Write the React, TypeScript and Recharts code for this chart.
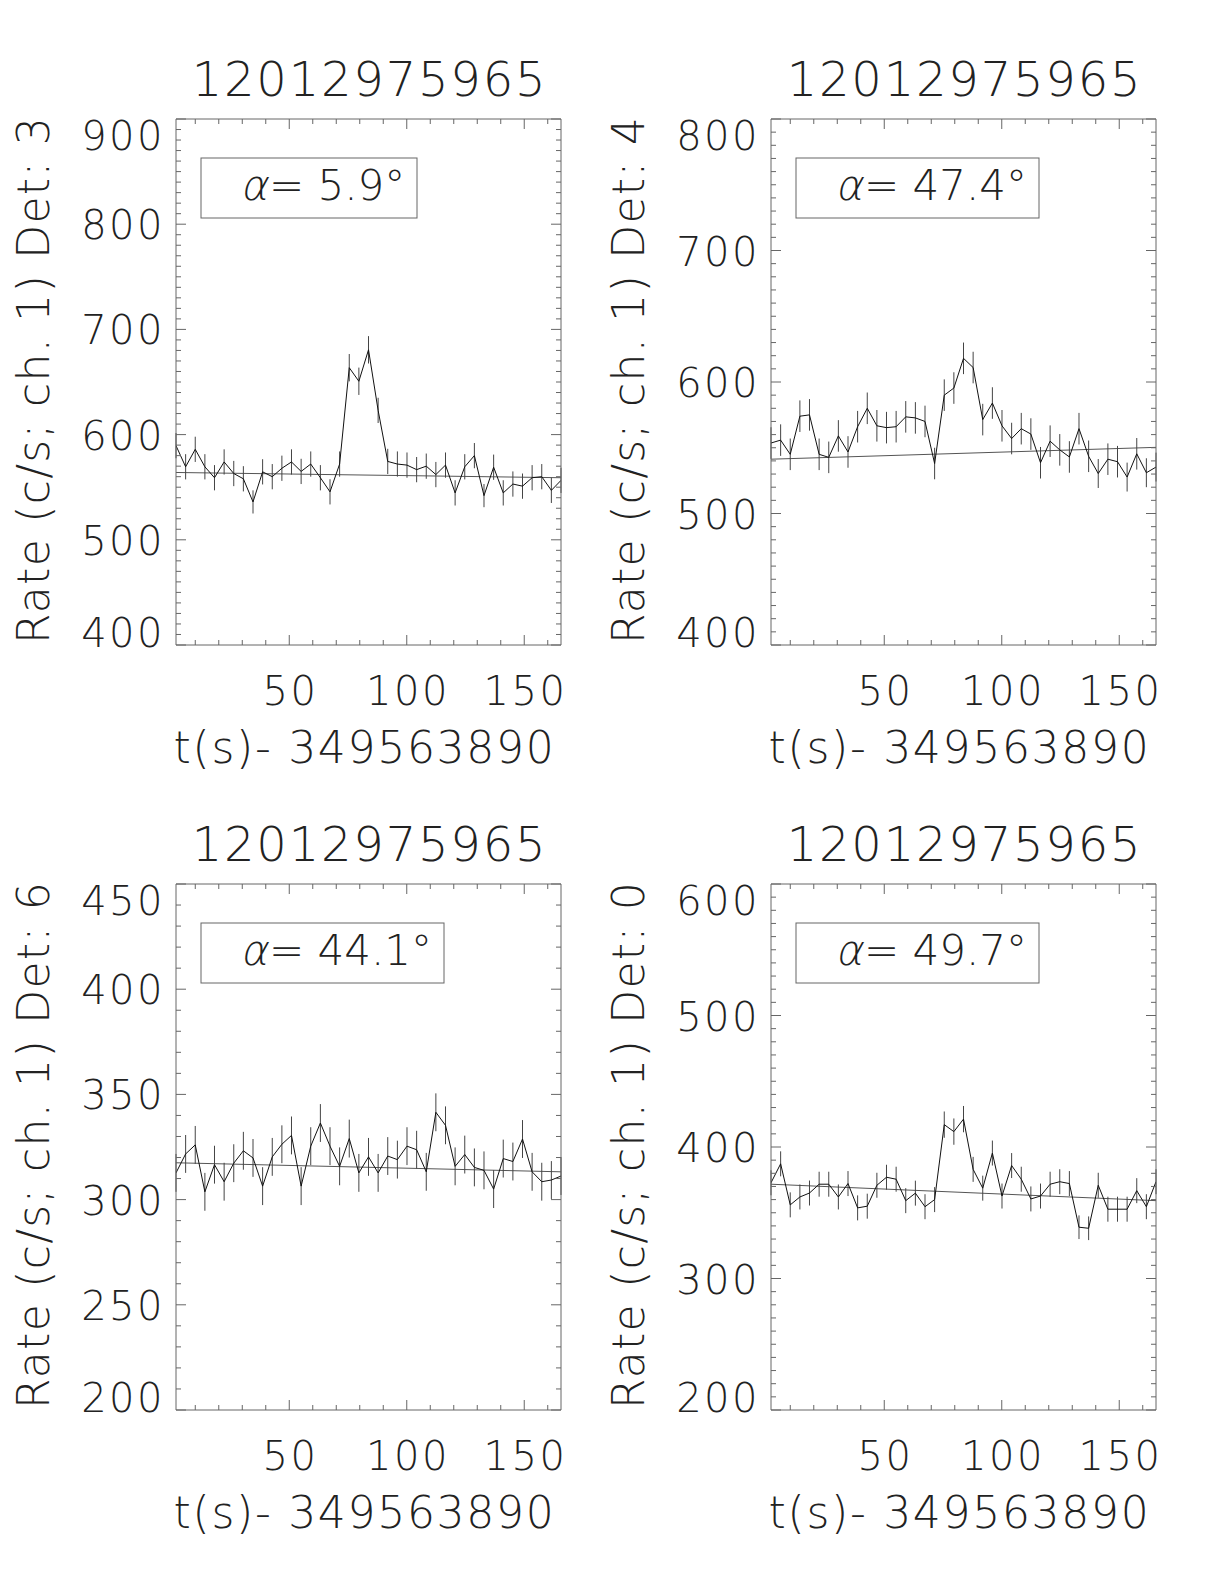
import React from "react";
import { ComposedChart, Line, XAxis, YAxis, ErrorBar } from "recharts";

// GRB trigger / light curves, 4.096 s bins, offset from 349563890 s
const TITLE = "12012975965";
const X_TITLE = "t(s)- 349563890";

const times = [
  1.8, 5.9, 9.99, 14.09, 18.18, 22.28, 26.38, 30.47, 34.57, 38.66, 42.76,
  46.86, 50.95, 55.05, 59.14, 63.24, 67.34, 71.43, 75.53, 79.62, 83.72, 87.82,
  91.91, 96.01, 100.1, 104.2, 108.3, 112.39, 116.49, 120.58, 124.68, 128.78,
  132.87, 136.97, 141.06, 145.16, 149.26, 153.35, 157.45, 161.54, 165.64,
];
const xMajorTicks = [50, 100, 150];

// Det 3
const det3Rate = [
  589.5, 569.4, 586, 569.4, 559, 574, 563, 558, 536, 564.6, 560, 568, 574, 565,
  572, 559, 545.6, 572, 663.6, 650.7, 680.6, 623, 574.5, 572, 571, 566.7, 570,
  562, 571, 544.6, 569.4, 580, 542, 569, 544.6, 553, 551, 559, 560, 547, 556.5,
];
const det3Err = [
  12, 12, 12, 12, 12, 12, 12, 12, 11, 12, 12, 12, 12, 12, 12, 12, 12, 12, 13,
  13, 13, 12, 12, 12, 12, 12, 12, 12, 12, 12, 12, 12, 11, 12, 12, 12, 12, 12,
  12, 12, 12,
];
const det3Fit = [564, 559];
const det3YTicks = [400, 500, 600, 700, 800, 900];

// Det 4
const det4Rate = [
  553.6, 555.8, 545, 574, 575, 545, 542.7, 559, 546.8, 566, 580, 566.7, 565.3,
  566, 573.5, 572.7, 570, 538, 590, 595.4, 618, 611, 571.4, 584, 566.7, 557,
  564.5, 560.4, 538.6, 555, 548.4, 543, 564.5, 543.5, 530.4, 541.3, 539.4,
  527.7, 545.4, 531, 535.3,
];
const det4Err = [
  12, 12, 12, 12, 12, 12, 12, 12, 12, 12, 12, 12, 12, 12, 12, 12, 12, 12, 12,
  12, 12, 12, 12, 12, 12, 12, 12, 12, 12, 12, 12, 12, 12, 12, 11, 12, 12, 11,
  12, 11, 11,
];
const det4Fit = [541.3, 550.3];
const det4YTicks = [400, 500, 600, 700, 800];

// Det 6
const det6Rate = [
  312.7, 321.7, 326, 303.7, 316.6, 308.5, 317.3, 323.2, 319.8, 306.4, 320.3,
  326.3, 330.5, 306.4, 325.4, 336.4, 325.4, 315.8, 329, 312.7, 320.3, 312.7,
  320.7, 319, 325.4, 323.7, 313.2, 341.5, 335.3, 315.8, 321.4, 315.3, 313.9,
  305, 319.5, 318.1, 328.8, 313.2, 308.5, 309.3, 311.2,
];
const det6Err = [
  9, 9, 9, 9, 9, 9, 9, 9, 9, 9, 9, 9, 9, 9, 9, 9, 9, 9, 9, 9, 9, 9, 9, 9, 9, 9,
  9, 9, 9, 9, 9, 9, 9, 9, 9, 9, 9, 9, 9, 9, 9,
];
const det6Fit = [317.5, 313.2];
const det6YTicks = [200, 250, 300, 350, 400, 450];

// Det 0
const det0Rate = [
  372.8, 387.2, 356, 362, 365, 371.7, 371.7, 362, 372.2, 353.7, 355, 370.9, 377,
  375.5, 359.2, 364.9, 354.6, 360, 417, 411.7, 421.2, 383, 368.7, 395.4, 362.7,
  385.9, 375.5, 360.5, 362.7, 371.7, 373.6, 372.2, 339, 338.2, 370.9, 352.7,
  352.7, 352.7, 366.8, 354.6, 373.6,
];
const det0Err = [
  9.5, 9.5, 9.5, 9.5, 9.5, 9.5, 9.5, 9.5, 9.5, 9.5, 9.5, 9.5, 9.5, 9.5, 9.5,
  9.5, 9.5, 9.5, 10, 10, 10, 9.5, 9.5, 9.5, 9.5, 9.5, 9.5, 9.5, 9.5, 9.5, 9.5,
  9.5, 9, 9, 9.5, 9.5, 9.5, 9.5, 9.5, 9.5, 9.5,
];
const det0Fit = [371.7, 359.2];
const det0YTicks = [200, 300, 400, 500, 600];

const FONT = "'DejaVu Sans', sans-serif";
const INK = "#222";
const AXIS = "#666";

// plot box size in px
const BOX_W = 385;
const BOX_H = 526;
const ML = 170;
const MT = 20;
const MR = 20;
const MB = 100;

const TICK_FS = 40;
const TICK_LS = 2.5;

function steps(lo: number, hi: number, step: number) {
  const out: number[] = [];
  for (let v = lo; v <= hi + 1e-9; v += step) out.push(Math.round(v * 100) / 100);
  return out;
}

const xMinorTicks = steps(10, 160, 10);

function xTick(side: "bottom" | "top") {
  return (props: any) => {
    const { x, y, payload } = props;
    const major = xMajorTicks.includes(payload.value);
    const len = major ? 10 : 5;
    const dir = side === "bottom" ? -1 : 1;
    return (
      <g>
        <line x1={x} x2={x} y1={y} y2={y + dir * len} stroke={AXIS} strokeWidth={1} />
        {side === "bottom" && major && (
          <text x={x + TICK_LS / 2} y={y + 60} textAnchor="middle" fontFamily={FONT} fontWeight={200}
            fontSize={TICK_FS} letterSpacing={TICK_LS} fill={INK}>
            {payload.value}
          </text>
        )}
      </g>
    );
  };
}

function yTick(side: "left" | "right", majors: number[]) {
  return (props: any) => {
    const { x, y, payload } = props;
    const major = majors.includes(payload.value);
    const len = major ? 10 : 5;
    const dir = side === "left" ? 1 : -1;
    // IDL nudges the end labels inside the box
    const cy = Math.min(Math.max(y, MT + 16), MT + BOX_H - 13);
    return (
      <g>
        <line x1={x} x2={x + dir * len} y1={y} y2={y} stroke={AXIS} strokeWidth={1} />
        {side === "left" && major && (
          <text x={x - 11} y={cy + 15} textAnchor="end" fontFamily={FONT} fontWeight={200}
            fontSize={TICK_FS} letterSpacing={TICK_LS} fill={INK}>
            {payload.value}
          </text>
        )}
      </g>
    );
  };
}

type PanelProps = {
  rate: number[];
  err: number[];
  fit: number[];
  yTicks: number[];
  left: number;
  top: number;
};

function Panel({ rate, err, fit, yTicks, left, top }: PanelProps) {
  const rows = times.map((t, i) => ({ t, rate: rate[i], err: err[i] }));
  const fitRows = [
    { t: times[0], fit: fit[0] },
    { t: times[times.length - 1], fit: fit[1] },
  ];
  const yDomain = [yTicks[0], yTicks[yTicks.length - 1]];
  const yMinor = steps(yDomain[0], yDomain[1], 10);
  const xDomain = [times[0], times[times.length - 1]];

  // axes get 1px each (a 0px axis is not drawn), margins shrink to match
  return (
    <div style={{ position: "absolute", left: left - ML, top: top - MT }}>
      <ComposedChart
        width={ML + BOX_W + MR}
        height={MT + BOX_H + MB}
        data={rows}
        margin={{ left: ML - 1, top: MT - 1, right: MR - 1, bottom: MB - 1 }}
      >
        <XAxis xAxisId="b" dataKey="t" type="number" domain={xDomain} allowDataOverflow
          ticks={xMinorTicks} interval={0} height={1} tickSize={0} tickMargin={0}
          axisLine={{ stroke: AXIS }} tickLine={false} tick={xTick("bottom")} />
        <XAxis xAxisId="t" orientation="top" dataKey="t" type="number" domain={xDomain} allowDataOverflow
          ticks={xMinorTicks} interval={0} height={1} tickSize={0} tickMargin={0}
          axisLine={{ stroke: AXIS }} tickLine={false} tick={xTick("top")} />
        <YAxis yAxisId="l" type="number" domain={yDomain} allowDataOverflow
          ticks={yMinor} interval={0} width={1} tickSize={0} tickMargin={0}
          axisLine={{ stroke: AXIS }} tickLine={false} tick={yTick("left", yTicks)} />
        <YAxis yAxisId="r" orientation="right" type="number" domain={yDomain} allowDataOverflow
          ticks={yMinor} interval={0} width={1} tickSize={0} tickMargin={0}
          axisLine={{ stroke: AXIS }} tickLine={false} tick={yTick("right", yTicks)} />
        <Line data={fitRows} xAxisId="b" yAxisId="l" dataKey="fit" type="linear"
          stroke="#555" strokeWidth={1} dot={false} isAnimationActive={false} />
        <Line xAxisId="b" yAxisId="l" dataKey="rate" type="linear"
          stroke="#111" strokeWidth={1} dot={false} isAnimationActive={false}>
          <ErrorBar dataKey="err" width={0} stroke="#444" strokeWidth={1} direction="y" isAnimationActive={false} />
        </Line>
      </ComposedChart>
    </div>
  );
}

const panels = [
  { det: "3", alpha: "5.9", rate: det3Rate, err: det3Err, fit: det3Fit, yTicks: det3YTicks, left: 176, top: 119, legendW: 216 },
  { det: "4", alpha: "47.4", rate: det4Rate, err: det4Err, fit: det4Fit, yTicks: det4YTicks, left: 771, top: 119, legendW: 243 },
  { det: "6", alpha: "44.1", rate: det6Rate, err: det6Err, fit: det6Fit, yTicks: det6YTicks, left: 176, top: 884, legendW: 243 },
  { det: "0", alpha: "49.7", rate: det0Rate, err: det0Err, fit: det0Fit, yTicks: det0YTicks, left: 771, top: 884, legendW: 243 },
];

export default function App() {
  return (
    <div style={{ position: "absolute", left: 0, top: 0, width: 1224, height: 1584, background: "#fff" }}>
      {panels.map((p) => (
        <Panel key={p.det} rate={p.rate} err={p.err} fit={p.fit} yTicks={p.yTicks} left={p.left} top={p.top} />
      ))}
      <svg width={1224} height={1584} style={{ position: "absolute", left: 0, top: 0, pointerEvents: "none" }}>
        {panels.map((p) => {
          const cx = p.left + BOX_W / 2;
          const ax = p.left + 64;
          const ay = p.top + 81;
          return (
            <g key={p.det} fontFamily={FONT} fontWeight={200} fill={INK}>
              <text x={cx + 1} y={p.top - 23.5} textAnchor="middle" fontSize={48} letterSpacing={1.8}>
                {TITLE}
              </text>
              <text x={cx - 4} y={p.top + BOX_H + 118} textAnchor="middle" fontSize={44} letterSpacing={1.7}>
                {X_TITLE}
              </text>
              <text
                x={p.left - 127}
                y={p.top + 261}
                textAnchor="middle"
                fontSize={44}
                letterSpacing={1.3}
                transform={`rotate(-90 ${p.left - 127} ${p.top + 261})`}
              >
                {`Rate (c/s; ch. 1) Det: ${p.det}`}
              </text>
              <rect x={p.left + 25} y={p.top + 39} width={p.legendW} height={60} fill="none" stroke={AXIS} strokeWidth={1} />
              <text x={ax} y={ay} fontSize={42} transform={`skewX(-12) translate(${ay * Math.tan((12 * Math.PI) / 180)} 0)`}>
                α
              </text>
              <text x={ax + 29} y={ay} fontSize={42}>
                {`= ${p.alpha}°`}
              </text>
            </g>
          );
        })}
      </svg>
    </div>
  );
}
